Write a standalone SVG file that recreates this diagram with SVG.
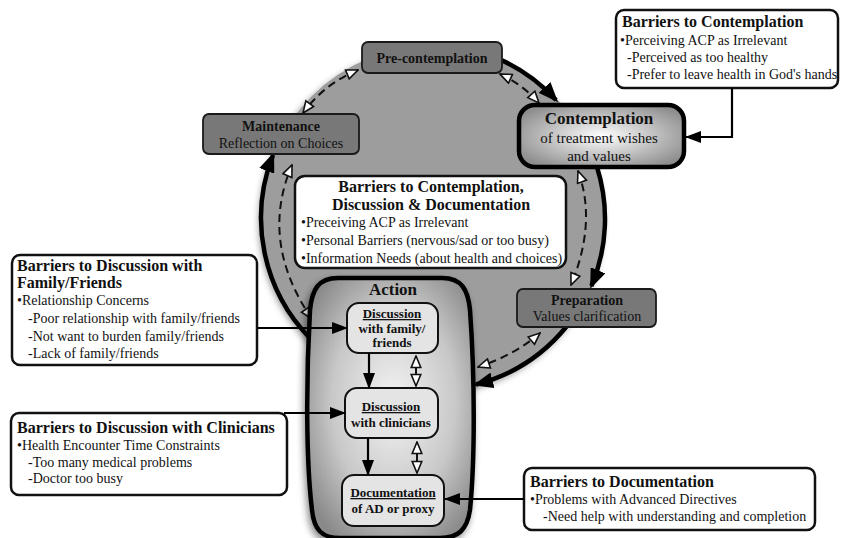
<svg xmlns="http://www.w3.org/2000/svg" width="841" height="538" viewBox="0 0 841 538">
<defs>
  <style>
    text { font-family: "Liberation Serif", "Times New Roman", serif; fill: #111; }
    .t14 { font-size: 14px; }
    .b14 { font-size: 14px; font-weight: bold; }
    .b13 { font-size: 13px; font-weight: bold; }
    .b16 { font-size: 16px; font-weight: bold; }
    .b17 { font-size: 17px; font-weight: bold; }
    .t15 { font-size: 15px; }
    .mid { text-anchor: middle; }
    .stage { fill: #787878; stroke: #1a1a1a; stroke-width: 1.8; }
    .barrier { fill: #ffffff; stroke: #111; stroke-width: 2.5; }
    .inner { fill: #e4e4e4; stroke: #111; stroke-width: 2; }
    .thick { fill: none; stroke: #000; stroke-width: 4.5; }
    .dash { fill: none; stroke: #111; stroke-width: 2; stroke-dasharray: 8 5; }
    .conn { fill: none; stroke: #000; stroke-width: 2.2; }
    .dbl { fill: none; stroke: #111; stroke-width: 2; }
  </style>
  <radialGradient id="contGrad" cx="50%" cy="50%" r="60%">
    <stop offset="0" stop-color="#ffffff"/>
    <stop offset="1" stop-color="#8c8c8c"/>
  </radialGradient>
  <radialGradient id="actGrad" cx="52%" cy="48%" r="62%">
    <stop offset="0" stop-color="#f4f4f4"/>
    <stop offset="0.6" stop-color="#c8c8c8"/>
    <stop offset="1" stop-color="#8a8a8a"/>
  </radialGradient>
  <filter id="shadow" x="-20%" y="-20%" width="140%" height="140%">
    <feDropShadow dx="-2" dy="4" stdDeviation="3.5" flood-color="#000" flood-opacity="0.45"/>
  </filter>
  <marker id="thickHead" viewBox="0 0 20 16" refX="17" refY="8" markerWidth="20" markerHeight="16" markerUnits="userSpaceOnUse" orient="auto">
    <path d="M0,0 L20,8 L0,16 Z" fill="#000"/>
  </marker>
  <marker id="solidHead" viewBox="0 0 16 12" refX="15" refY="6" markerWidth="16" markerHeight="12" markerUnits="userSpaceOnUse" orient="auto">
    <path d="M0,0 L16,6 L0,12 Z" fill="#000"/>
  </marker>
  <marker id="openHead" viewBox="0 0 14 12" refX="13" refY="6" markerWidth="14" markerHeight="12" markerUnits="userSpaceOnUse" orient="auto-start-reverse">
    <path d="M1.5,1.2 L13,6 L1.5,10.8 Z" fill="#fff" stroke="#111" stroke-width="1.6" stroke-linejoin="miter"/>
  </marker>
</defs>

<rect width="841" height="538" fill="#ffffff"/>

<!-- big gray cycle -->
<g id="cycle">
  <circle cx="433" cy="218" r="172" fill="#9d9d9d" filter="url(#shadow)"/>
</g>

<!-- connectors -->
<g id="connectors">
  <!-- thick cycle arrows -->
  <path class="thick" d="M502,60.4 A172,172 0 0 1 556,100" marker-end="url(#thickHead)"/>
  <path class="thick" d="M597,167 A172,172 0 0 1 591.4,286" marker-end="url(#thickHead)"/>
  <path class="thick" d="M566.9,326 A172,172 0 0 1 476,384.5" marker-end="url(#thickHead)"/>
  <path class="thick" d="M310,338.2 A172,172 0 0 1 273,155" marker-end="url(#thickHead)"/>
  <!-- dashed bidirectional -->
  <path class="dash" d="M358,70 Q324,84 303,113" marker-start="url(#openHead)" marker-end="url(#openHead)"/>
  <path class="dash" d="M500,74 Q522,84 539,103" marker-start="url(#openHead)" marker-end="url(#openHead)"/>
  <path class="dash" d="M578,171 Q597,222 571,285" marker-start="url(#openHead)" marker-end="url(#openHead)"/>
  <path class="dash" d="M540,333 Q515,355 478,367" marker-start="url(#openHead)" marker-end="url(#openHead)"/>
  <path class="dash" d="M312,319 Q259,242 292,165" marker-start="url(#openHead)" marker-end="url(#openHead)"/>
</g>

<!-- stage nodes -->
<g id="precontemplation">
  <rect class="stage" x="362" y="42" width="140" height="31" rx="6"/>
  <text class="b14 mid" x="432" y="63">Pre-contemplation</text>
</g>
<g id="maintenance">
  <rect class="stage" x="203" y="114" width="156" height="40" rx="6"/>
  <text class="b14 mid" x="281" y="131">Maintenance</text>
  <text class="t14 mid" x="281" y="148">Reflection on Choices</text>
</g>
<g id="preparation">
  <rect class="stage" x="517" y="289" width="139" height="38" rx="6"/>
  <text class="b14 mid" x="587" y="305">Preparation</text>
  <text class="t14 mid" x="587" y="321">Values clarification</text>
</g>
<g id="contemplation">
  <rect x="519" y="105" width="165" height="62" rx="16" fill="url(#contGrad)" stroke="#000" stroke-width="4.5"/>
  <text class="b17 mid" x="599" y="124">Contemplation</text>
  <text class="t15 mid" x="599" y="143">of treatment wishes</text>
  <text class="t15 mid" x="599" y="161">and values</text>
</g>

<g id="barriers-general">
  <rect class="barrier" x="295" y="176" width="271" height="92" rx="10"/>
  <text class="b16 mid" x="431" y="192">Barriers to Contemplation,</text>
  <text class="b16 mid" x="431" y="210">Discussion &amp; Documentation</text>
  <text class="t14" x="301" y="227">•Preceiving ACP as  Irrelevant</text>
  <text class="t14" x="301" y="245">•Personal Barriers (nervous/sad or too busy)</text>
  <text class="t14" x="301" y="263">•Information Needs (about health and choices)</text>
</g>

<!-- action -->
<g id="action">
  <path d="M338,278 L442,278 C462,278 468,290 470,310 C475,380 475,460 470,510 C467,530 458,538 440,538 L340,538 C322,538 314,530 312,510 C306,460 306,380 310,310 C312,290 318,278 338,278 Z" fill="url(#actGrad)" stroke="#000" stroke-width="4.5" filter="url(#shadow)"/>
  <text class="b17 mid" x="393" y="295">Action</text>
</g>
<g id="discussion-family">
  <rect class="inner" x="347" y="303" width="91" height="50" rx="12"/>
  <text class="b13 mid" x="392" y="318" text-decoration="underline">Discussion</text>
  <text class="b13 mid" x="392" y="333">with family/</text>
  <text class="b13 mid" x="392" y="347">friends</text>
</g>
<g id="discussion-clinicians">
  <rect class="inner" x="345" y="388" width="93" height="50" rx="12"/>
  <text class="b13 mid" x="391" y="411" text-decoration="underline">Discussion</text>
  <text class="b13 mid" x="391" y="427">with clinicians</text>
</g>
<g id="documentation">
  <rect class="inner" x="342" y="475" width="102" height="51" rx="12"/>
  <text class="b13 mid" x="393" y="497" text-decoration="underline">Documentation</text>
  <text class="b13 mid" x="393" y="513">of AD or proxy</text>
</g>

<g id="action-connectors">
  <path class="conn" d="M369,353 L369,388" marker-end="url(#solidHead)"/>
  <path class="conn" d="M368,438 L368,475" marker-end="url(#solidHead)"/>
  <path class="dbl" d="M416,356 L416,386" marker-start="url(#openHead)" marker-end="url(#openHead)"/>
  <path class="dbl" d="M417,442 L417,473" marker-start="url(#openHead)" marker-end="url(#openHead)"/>
</g>

<!-- barrier boxes -->
<g id="barriers-contemplation">
  <rect class="barrier" x="616" y="10" width="222" height="78" rx="8"/>
  <text class="b16" x="622" y="27">Barriers to Contemplation</text>
  <text class="t14" x="620" y="45">•Perceiving ACP as Irrelevant</text>
  <text class="t14" x="627" y="62">-Perceived as too healthy</text>
  <text class="t14" x="627" y="79">-Prefer to leave health in God's hands</text>
</g>
<g id="barriers-family">
  <rect class="barrier" x="12" y="255" width="245" height="110" rx="8"/>
  <text class="b16" x="17" y="271">Barriers to Discussion with</text>
  <text class="b16" x="17" y="288">Family/Friends</text>
  <text class="t14" x="17" y="305">•Relationship Concerns</text>
  <text class="t14" x="28" y="323">-Poor relationship with family/friends</text>
  <text class="t14" x="28" y="341">-Not want to burden family/friends</text>
  <text class="t14" x="28" y="358">-Lack of family/friends</text>
</g>
<g id="barriers-clinicians">
  <rect class="barrier" x="11" y="413" width="276" height="82" rx="8"/>
  <text class="b16" x="17" y="433">Barriers to Discussion with Clinicians</text>
  <text class="t14" x="17" y="450">•Health Encounter Time Constraints</text>
  <text class="t14" x="28" y="467">-Too many medical problems</text>
  <text class="t14" x="28" y="483">-Doctor too busy</text>
</g>
<g id="barriers-documentation">
  <rect class="barrier" x="524" y="468" width="291" height="62" rx="8"/>
  <text class="b16" x="530" y="487">Barriers to Documentation</text>
  <text class="t14" x="530" y="504">•Problems with Advanced Directives</text>
  <text class="t14" x="543" y="521">-Need help with understanding and completion</text>
</g>

<g id="barrier-connectors">
  <path class="conn" d="M732,88 V137 H686" marker-end="url(#solidHead)"/>
  <path class="conn" d="M257,328 H347" marker-end="url(#solidHead)"/>
  <path class="conn" d="M284,413 H345" marker-end="url(#solidHead)"/>
  <path class="conn" d="M524,499 H445" marker-end="url(#solidHead)"/>
</g>
</svg>
